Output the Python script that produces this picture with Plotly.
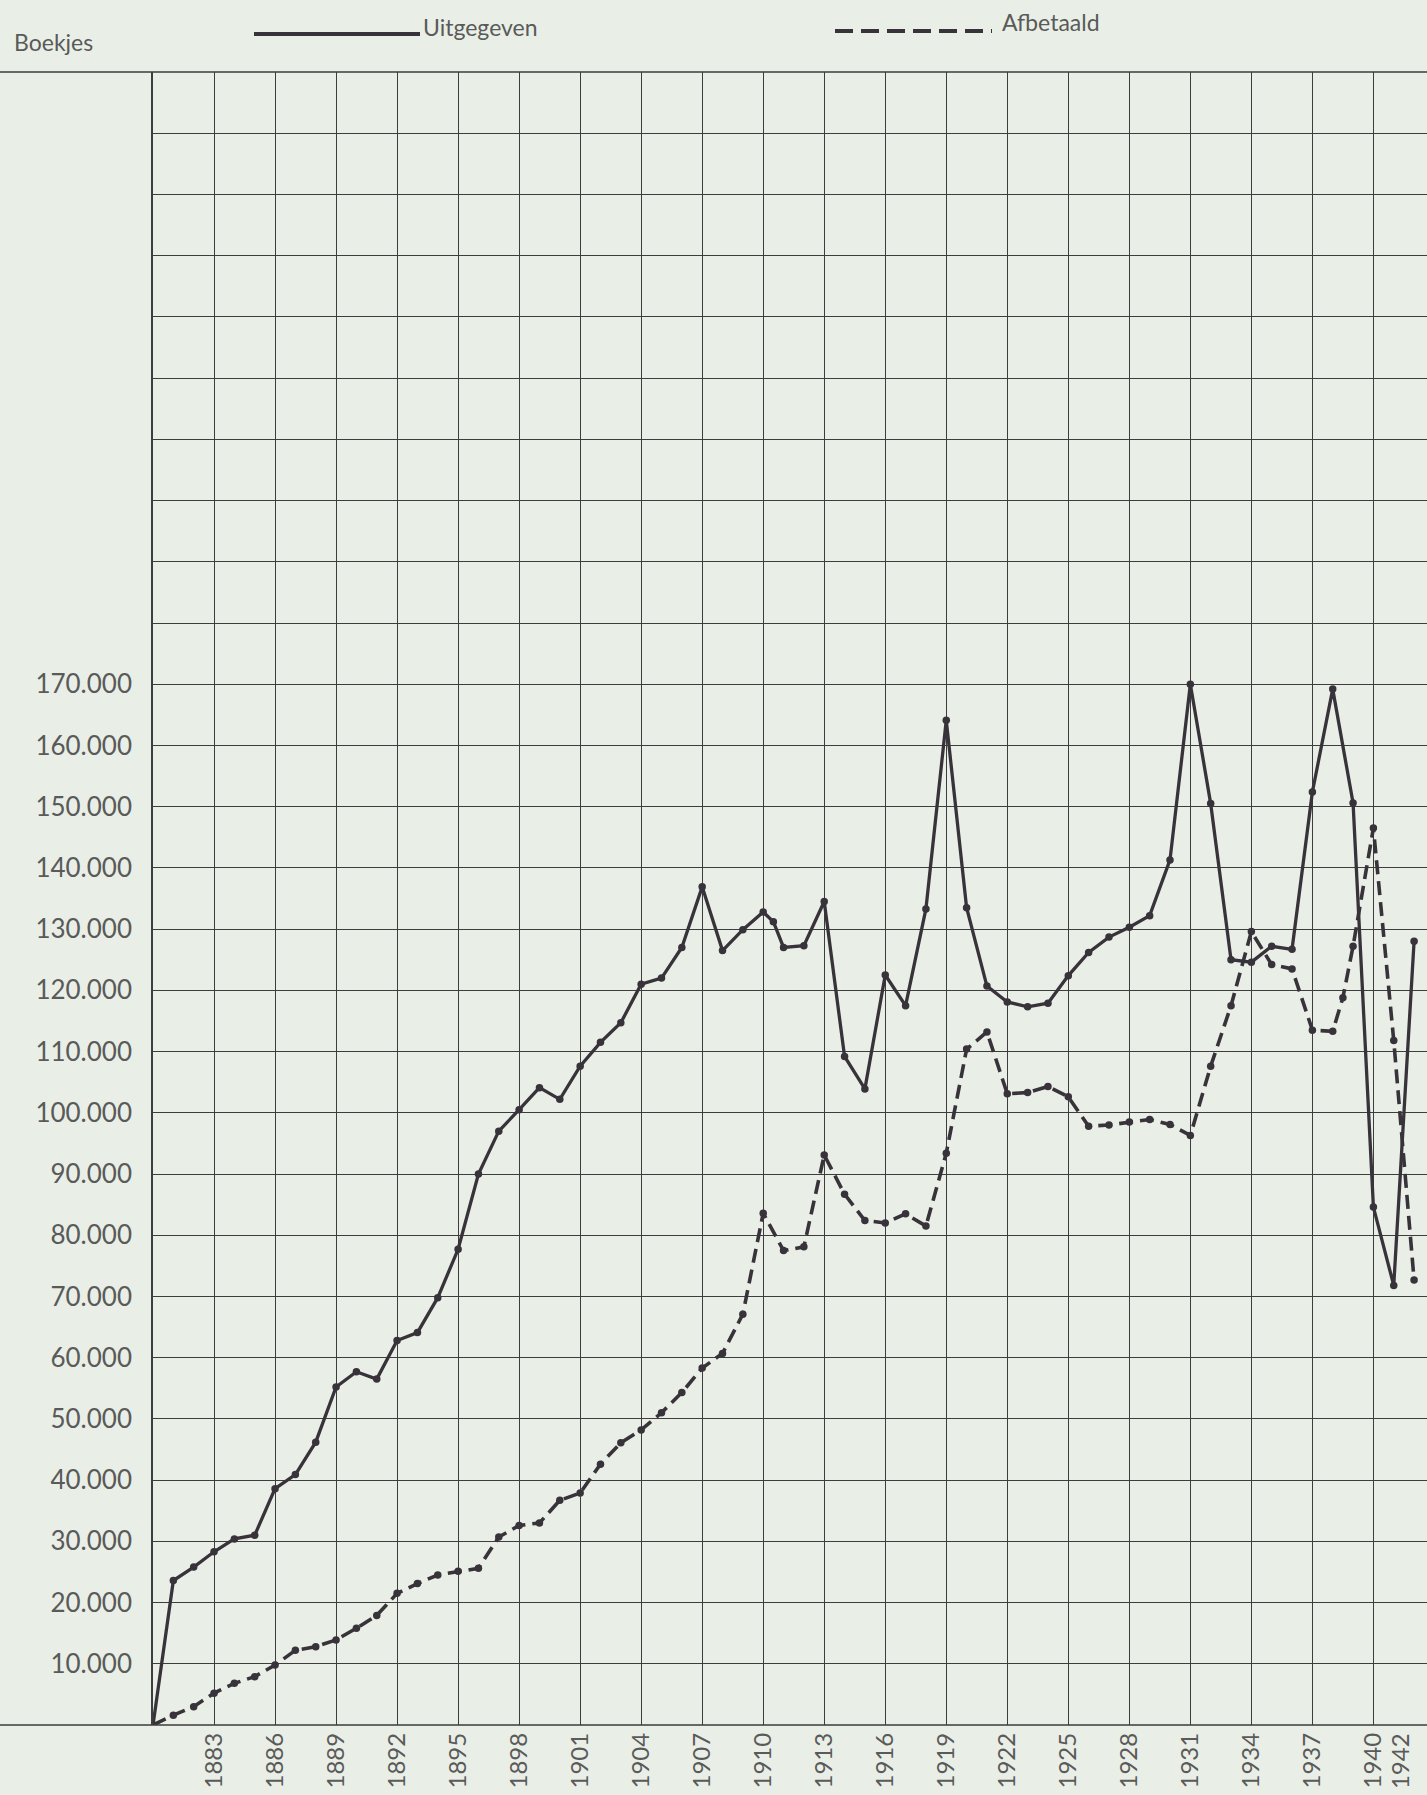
import plotly.graph_objects as go

# ---------------- data ----------------
years_uit = [1880, 1881, 1882, 1883, 1884, 1885, 1886, 1887, 1888, 1889,
             1890, 1891, 1892, 1893, 1894, 1895, 1896, 1897, 1898, 1899,
             1900, 1901, 1902, 1903, 1904, 1905, 1906, 1907, 1908, 1909,
             1910, 1910.5, 1911, 1912, 1913, 1914, 1915, 1916, 1917, 1918,
             1919, 1920, 1921, 1922, 1923, 1924, 1925, 1926, 1927, 1928,
             1929, 1930, 1931, 1932, 1933, 1934, 1935, 1936, 1937, 1938,
             1939, 1940, 1941, 1942]
uitgegeven = [0, 23600, 25800, 28300, 30400, 31000, 38600, 40900, 46200, 55200,
              57700, 56500, 62800, 64100, 69800, 77700, 90000, 97000, 100500, 104100,
              102200, 107600, 111500, 114700, 121000, 122000, 127000, 136900, 126500, 129900,
              132800, 131200, 127000, 127300, 134500, 109200, 103900, 122500, 117500, 133300,
              164100, 133500, 120700, 118100, 117300, 117900, 122400, 126200, 128700, 130300,
              132200, 141300, 170000, 150500, 125000, 124600, 127200, 126700, 152400, 169200,
              150600, 84600, 71800, 128000]

years_afb = [1880, 1881, 1882, 1883, 1884, 1885, 1886, 1887, 1888, 1889,
             1890, 1891, 1892, 1893, 1894, 1895, 1896, 1897, 1898, 1899,
             1900, 1901, 1902, 1903, 1904, 1905, 1906, 1907, 1908, 1909,
             1910, 1911, 1912, 1913, 1914, 1915, 1916, 1917, 1918, 1919,
             1920, 1921, 1922, 1923, 1924, 1925, 1926, 1927, 1928, 1929,
             1930, 1931, 1932, 1933, 1934, 1935, 1936, 1937, 1938, 1938.5,
             1939, 1940, 1941, 1942]
afbetaald = [0, 1600, 3000, 5200, 6800, 7900, 9800, 12200, 12800, 13900,
             15800, 17900, 21500, 23100, 24500, 25100, 25600, 30700, 32600, 33000,
             36700, 37900, 42600, 46100, 48200, 51000, 54300, 58300, 60700, 67100,
             83600, 77500, 78100, 93100, 86700, 82400, 82000, 83500, 81500, 93400,
             110400, 113200, 103100, 103300, 104300, 102600, 97800, 98000, 98500, 98900,
             98100, 96300, 107600, 117500, 129600, 124200, 123500, 113500, 113300, 118800,
             127200, 146500, 111800, 72700]

x_tick_years = [1883, 1886, 1889, 1892, 1895, 1898, 1901, 1904, 1907, 1910,
                1913, 1916, 1919, 1922, 1925, 1928, 1931, 1934, 1937, 1940]
x_tick_labels = ["1883", "1886", "1889", "1892", "1895", "1898", "1901", "1904", "1907", "1910",
                 "1913", "1916", "1919", "1922", "1925", "1928", "1931", "1934", "1937", "1940"]
last_year_label = "1942"

y_tick_values = [10000, 20000, 30000, 40000, 50000, 60000, 70000, 80000, 90000,
                 100000, 110000, 120000, 130000, 140000, 150000, 160000, 170000]
y_tick_labels = ["10.000", "20.000", "30.000", "40.000", "50.000", "60.000", "70.000",
                 "80.000", "90.000", "100.000", "110.000", "120.000", "130.000",
                 "140.000", "150.000", "160.000", "170.000"]

y_title = "Boekjes"
name_uit = "Uitgegeven"
name_afb = "Afbetaald"

# ---------------- layout geometry ----------------
W, H = 1427, 1795
AX_LEFT = 153          # pixel of the y axis line
TOP, BOT = 72, 70      # plot area margins
PX_PER_YEAR = 20.34
X0 = 1880
X1 = X0 + (W - AX_LEFT) / PX_PER_YEAR
Y_MAX = 270000

BG = "#e9efe6"
INK = "#38333a"
GRID = "#3d3d3d"
TXT = "#5a5a5a"
FONT = "Lato"


def px_x(p):
    return p / W


def px_y(p):
    return (H - BOT - p) / (H - TOP - BOT)


fig = go.Figure()

fig.add_trace(go.Scatter(
    x=years_uit, y=uitgegeven, mode="lines+markers", name=name_uit,
    line=dict(color=INK, width=3.3),
    marker=dict(size=7.5, color=INK),
    showlegend=False,
))
fig.add_trace(go.Scatter(
    x=years_afb, y=afbetaald, mode="lines+markers", name=name_afb,
    line=dict(color=INK, width=3.6, dash="14px,7px"),
    marker=dict(size=7.5, color=INK),
    showlegend=False,
))

shapes = [
    # full-width top and bottom rules
    dict(type="line", xref="paper", yref="paper", x0=0, x1=1, y0=1, y1=1,
         line=dict(color=GRID, width=1.6)),
    dict(type="line", xref="paper", yref="paper", x0=0, x1=1, y0=0, y1=0,
         line=dict(color=GRID, width=1.6)),
    # legend samples
    dict(type="line", xref="paper", yref="paper", x0=px_x(254), x1=px_x(420),
         y0=px_y(34), y1=px_y(34), line=dict(color=INK, width=4)),
    dict(type="line", xref="paper", yref="paper", x0=px_x(835), x1=px_x(992),
         y0=px_y(31), y1=px_y(31), line=dict(color=INK, width=4, dash="18px,8px")),
]

annotations = [
    dict(text=y_title, xref="paper", yref="paper", x=px_x(12), y=px_y(42),
         xanchor="left", yanchor="middle", showarrow=False,
         font=dict(family=FONT, size=23, color=TXT)),
    dict(text=name_uit, xref="paper", yref="paper", x=px_x(421), y=px_y(27),
         xanchor="left", yanchor="middle", showarrow=False,
         font=dict(family=FONT, size=23, color=TXT)),
    dict(text=name_afb, xref="paper", yref="paper", x=px_x(1000), y=px_y(22),
         xanchor="left", yanchor="middle", showarrow=False,
         font=dict(family=FONT, size=23, color=TXT)),
    dict(text=last_year_label, xref="x", yref="paper", x=1942, y=px_y(1731),
         xanchor="center", yanchor="top", textangle=-90, xshift=-15,
         showarrow=False, font=dict(family=FONT, size=24, color=TXT)),
]

fig.update_layout(
    width=W, height=H,
    template="none",
    margin=dict(l=0, r=0, t=TOP, b=BOT, pad=0),
    paper_bgcolor=BG, plot_bgcolor=BG,
    showlegend=False,
    shapes=shapes,
    annotations=annotations,
    xaxis=dict(
        domain=[AX_LEFT / W, 1], range=[X0, X1],
        tickmode="array", tickvals=x_tick_years, ticktext=x_tick_labels,
        tickangle=-90, ticks="", showgrid=True, gridcolor=GRID, gridwidth=1.4,
        zeroline=False, showline=False, automargin=False,
        tickfont=dict(family=FONT, size=24, color=TXT),
        ticklabelstandoff=2,
    ),
    yaxis=dict(
        range=[0, Y_MAX],
        tickmode="array", tickvals=y_tick_values, ticktext=y_tick_labels,
        ticks="", showgrid=True, gridcolor=GRID, gridwidth=1.4,
        minor=dict(dtick=10000, tick0=0, showgrid=True, gridcolor=GRID, gridwidth=1.4),
        zeroline=False, showline=True, linecolor=GRID, linewidth=1.6,
        automargin=False,
        tickfont=dict(family=FONT, size=26, color=TXT),
        ticklabelstandoff=14,
    ),
)

fig.write_html("out.html", include_plotlyjs=True,
               config={"displayModeBar": False},
               post_script="document.body.style.margin='0';document.body.style.overflow='hidden';document.body.style.background='" + BG + "';")
